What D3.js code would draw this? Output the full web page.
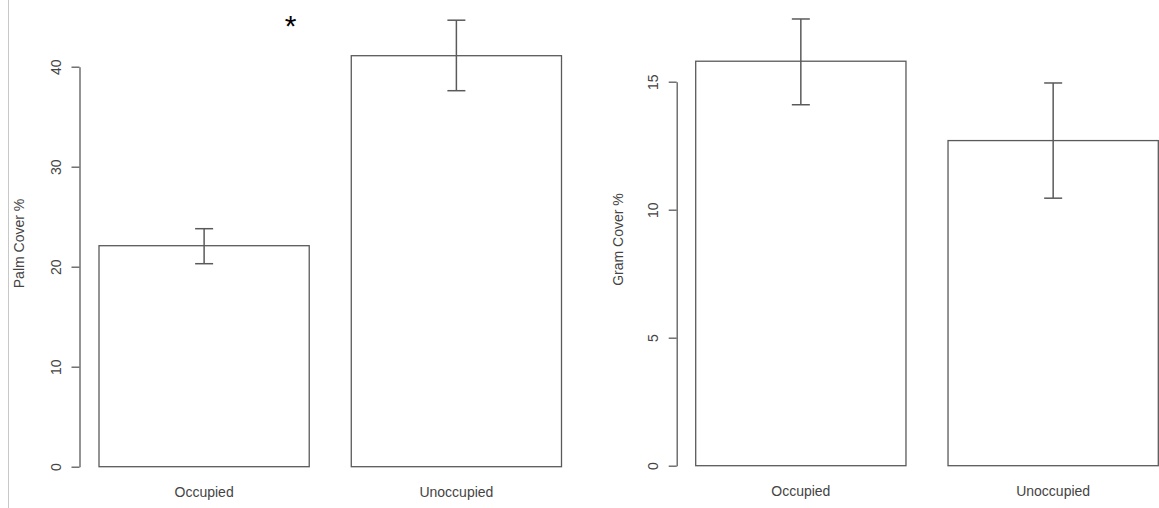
<!DOCTYPE html>
<html>
<head>
<meta charset="utf-8">
<script src="https://cdn.jsdelivr.net/npm/d3@7"></script>
<style>
  html, body { margin: 0; padding: 0; background: #fff; }
  svg { display: block; font-family: "Liberation Sans", Arial, sans-serif; }
</style>
</head>
<body>
<svg id="chart" width="1159" height="508"></svg>
<script>
// ---- data ----
const categories = ["Occupied", "Unoccupied"];
const palmMeans = [22.1, 41.1];
const palmLower = [20.3, 37.6];
const palmUpper = [23.8, 44.65];
const palmTicks = [0, 10, 20, 30, 40];
const gramMeans = [15.8, 12.7];
const gramLower = [14.1, 10.45];
const gramUpper = [17.45, 14.95];
const gramTicks = [0, 5, 10, 15];
const palmLabel = "Palm Cover %";
const gramLabel = "Gram Cover %";
const significance = "*";

const svg = d3.select("#chart");
const lineColor = "#5a5a5a";
const textColor = "#444";

// thin left border
svg.append("line")
  .attr("x1", 8.5).attr("x2", 8.5).attr("y1", 0).attr("y2", 508)
  .attr("stroke", "#c8c8c8").attr("stroke-width", 1);

function panel(cfg) {
  const g = svg.append("g");
  const x = d3.scaleBand().domain(categories)
    .range([cfg.x0, cfg.x1]).paddingInner(1 / 6).paddingOuter(0);
  const y = d3.scaleLinear().domain([0, d3.max(cfg.ticks)])
    .range([cfg.yBottom, cfg.yTop]);

  // bars
  g.selectAll("rect.bar").data(cfg.means).join("rect")
    .attr("class", "bar")
    .attr("x", (d, i) => x(categories[i]))
    .attr("width", x.bandwidth())
    .attr("y", d => y(d))
    .attr("height", d => y(0) - y(d))
    .attr("fill", "#fff")
    .attr("stroke", lineColor)
    .attr("stroke-width", 1.3);

  // error bars
  const cap = 9;
  const eb = g.selectAll("g.err").data(cfg.means).join("g").attr("class", "err");
  eb.append("line")
    .attr("x1", (d, i) => x(categories[i]) + x.bandwidth() / 2)
    .attr("x2", (d, i) => x(categories[i]) + x.bandwidth() / 2)
    .attr("y1", (d, i) => y(cfg.lower[i]))
    .attr("y2", (d, i) => y(cfg.upper[i]));
  eb.append("line")
    .attr("x1", (d, i) => x(categories[i]) + x.bandwidth() / 2 - cap)
    .attr("x2", (d, i) => x(categories[i]) + x.bandwidth() / 2 + cap)
    .attr("y1", (d, i) => y(cfg.upper[i]))
    .attr("y2", (d, i) => y(cfg.upper[i]));
  eb.append("line")
    .attr("x1", (d, i) => x(categories[i]) + x.bandwidth() / 2 - cap)
    .attr("x2", (d, i) => x(categories[i]) + x.bandwidth() / 2 + cap)
    .attr("y1", (d, i) => y(cfg.lower[i]))
    .attr("y2", (d, i) => y(cfg.lower[i]));
  eb.selectAll("line").attr("stroke", lineColor).attr("stroke-width", 1.5);

  // y axis (R style)
  const ax = g.append("g")
    .attr("transform", `translate(${cfg.axisX},0)`)
    .call(d3.axisLeft(y).tickValues(cfg.ticks).tickSize(8).tickSizeOuter(0));
  ax.select(".domain").attr("stroke", lineColor).attr("stroke-width", 1.3);
  ax.selectAll(".tick line").attr("stroke", lineColor).attr("stroke-width", 1.3);
  ax.selectAll(".tick text")
    .attr("transform", "rotate(-90)")
    .attr("x", 0).attr("y", -18.5).attr("dy", null)
    .attr("text-anchor", "middle")
    .attr("fill", textColor)
    .style("font-size", "14px")
    .style("font-family", "'Liberation Sans', Arial, sans-serif");

  // y label
  g.append("text")
    .attr("transform", `translate(${cfg.labelX},${cfg.labelY}) rotate(-90)`)
    .attr("text-anchor", "middle")
    .attr("fill", textColor)
    .style("font-size", "14px")
    .text(cfg.label);

  // category labels
  g.selectAll("text.cat").data(categories).join("text")
    .attr("class", "cat")
    .attr("x", d => x(d) + x.bandwidth() / 2)
    .attr("y", cfg.catY)
    .attr("text-anchor", "middle")
    .attr("fill", textColor)
    .style("font-size", "14px")
    .text(d => d);
}

panel({
  x0: 99, x1: 561.5, yBottom: 466.7, yTop: 66.7, axisX: 79.5,
  means: palmMeans, lower: palmLower, upper: palmUpper, ticks: palmTicks,
  label: palmLabel, labelX: 24, labelY: 243.5, catY: 497
});
panel({
  x0: 695.7, x1: 1158.3, yBottom: 465.7, yTop: 81.7, axisX: 676.7,
  means: gramMeans, lower: gramLower, upper: gramUpper, ticks: gramTicks,
  label: gramLabel, labelX: 623, labelY: 239.5, catY: 495.7
});

// significance asterisk
svg.append("text")
  .attr("x", 290.5).attr("y", 36)
  .attr("text-anchor", "middle")
  .attr("fill", "#000")
  .style("font-size", "30px")
  .text(significance);
</script>
</body>
</html>
